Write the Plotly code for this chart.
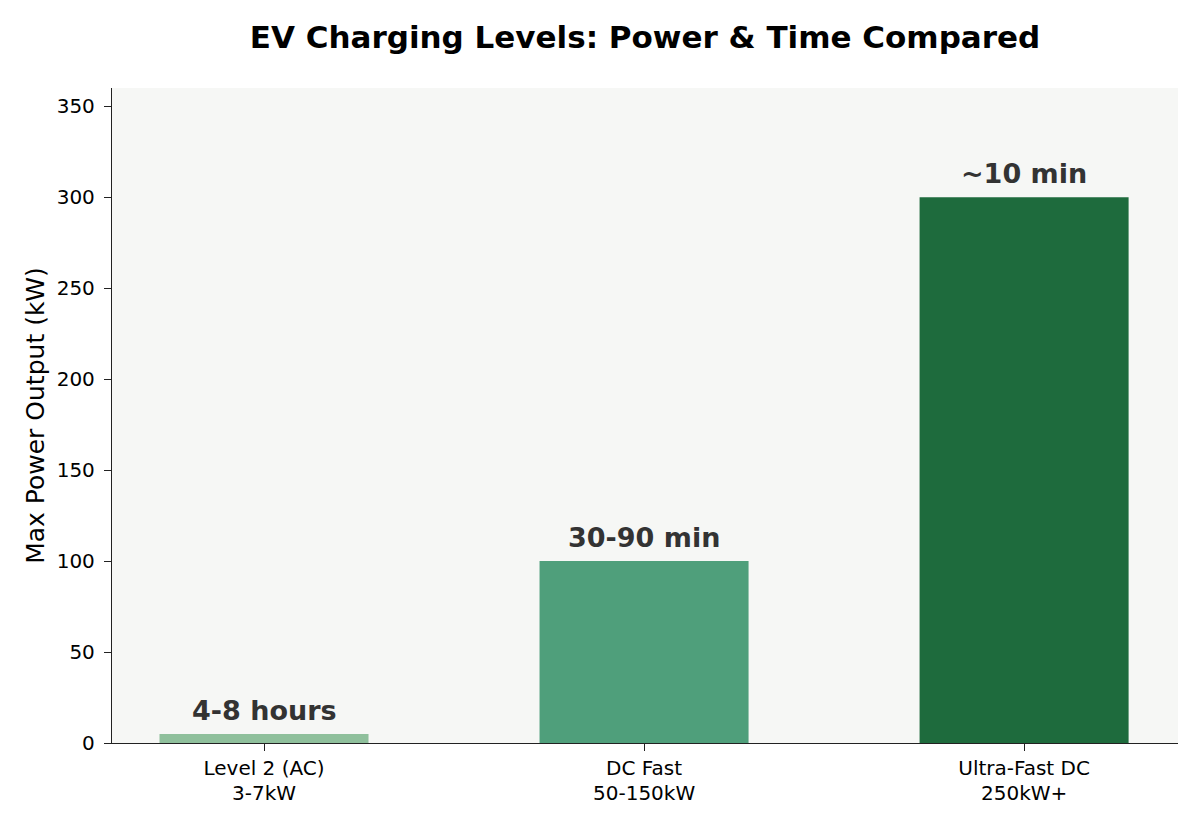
import plotly.graph_objects as go

category_names = ["Level 2 (AC)", "DC Fast", "Ultra-Fast DC"]
category_ranges = ["3-7kW", "50-150kW", "250kW+"]
power_kw = [5, 100, 300]
time_labels = ["4-8 hours", "30-90 min", "~10 min"]
colors = ["#8fc09c", "#4f9f7b", "#1e6b3d"]
y_ticks = [0, 50, 100, 150, 200, 250, 300, 350]

x_pos = list(range(len(category_names)))

fig = go.Figure()
fig.add_trace(go.Bar(
    x=x_pos, y=power_kw, width=0.55,
    marker=dict(color=colors, line=dict(width=0)),
    hoverinfo="skip",
))

for xp, v, t in zip(x_pos, power_kw, time_labels):
    fig.add_annotation(x=xp, y=v, text=f"<b>{t}</b>", showarrow=False,
                       yanchor="bottom", yshift=6,
                       font=dict(family="DejaVu Sans", size=27, color="#333333"))

# second line of the category tick labels
for xp, r in zip(x_pos, category_ranges):
    fig.add_annotation(x=xp, xref="x", y=0, yref="paper", text=r, showarrow=False,
                       yanchor="middle", yshift=-50,
                       font=dict(family="DejaVu Sans", size=20, color="black"))

fig.update_layout(
    width=1200, height=825,
    margin=dict(l=104, r=30, t=80, b=90),
    paper_bgcolor="white",
    plot_bgcolor="#f6f7f5",
    showlegend=False,
    font=dict(family="DejaVu Sans", size=20, color="black"),
    title=dict(text="<b>EV Charging Levels: Power & Time Compared</b>",
               xref="paper", x=0.5, xanchor="center",
               yref="container", y=1 - 29 / 825, yanchor="middle",
               font=dict(family="DejaVu Sans", size=31, color="black")),
    xaxis=dict(
        tickmode="array", tickvals=x_pos, ticktext=category_names,
        range=[-0.4, 2.405],
        showline=True, linecolor="#222222", linewidth=1.3,
        ticks="outside", ticklen=7, tickcolor="#222222",
        showgrid=False, zeroline=False,
        tickfont=dict(size=20),
        ticklabelstandoff=0,
    ),
    yaxis=dict(
        range=[0, 360],
        tickmode="array", tickvals=y_ticks,
        showline=True, linecolor="#222222", linewidth=1.3,
        ticks="outside", ticklen=7, tickcolor="#222222",
        showgrid=False, zeroline=False,
        tickfont=dict(size=20),
        ticklabelstandoff=5,
        title=dict(text="Max Power Output (kW)", font=dict(size=25), standoff=4),
    ),
)

fig.write_html("out.html")
